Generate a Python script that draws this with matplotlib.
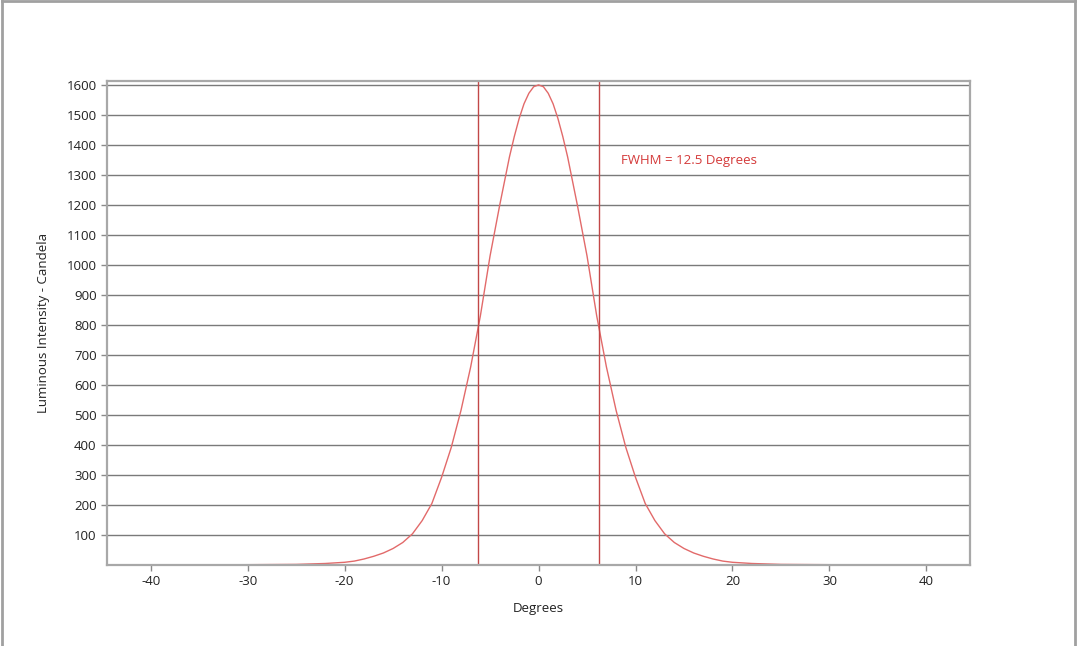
import numpy as np
import matplotlib.pyplot as plt
from matplotlib.lines import Line2D

# luminous intensity profile
degrees = [-44.5, -35, -30, -25, -22, -20, -19, -18, -17, -16, -15, -14, -13, -12, -11,
           -10, -9, -8, -7, -6, -5, -4, -3, -2.5, -2, -1.5, -1, -0.5, 0,
           0.5, 1, 1.5, 2, 2.5, 3, 4, 5, 6, 7, 8, 9, 10,
           11, 12, 13, 14, 15, 16, 17, 18, 19, 20, 22, 25, 30, 35, 44.5]
intensity = [0, 0.5, 1, 2, 5, 9, 13, 20, 29, 40, 55, 75, 104, 148, 205,
             292, 392, 515, 660, 830, 1030, 1200, 1360, 1428, 1488, 1537, 1572, 1594, 1600,
             1594, 1572, 1537, 1488, 1428, 1360, 1200, 1030, 830, 660, 515, 392, 292,
             205, 148, 104, 75, 55, 40, 29, 20, 13, 9, 5, 2, 1, 0.5, 0]
fwhm = 12.5
yticks = list(range(100, 1700, 100))
xticks = [-40, -30, -20, -10, 0, 10, 20, 30, 40]

plt.rcParams['font.family'] = ['Open Sans', 'DejaVu Sans']
plt.rcParams['axes.unicode_minus'] = False

fig = plt.figure(figsize=(10.8, 6.46), dpi=100)
ax = fig.add_axes([0.0991, 0.1254, 0.7991, 0.7492])

ax.plot(degrees, intensity, color='#e26a6a', linewidth=1.0)
ax.axvline(-fwhm / 2, color='#c24848', linewidth=1.0)
ax.axvline(fwhm / 2, color='#c24848', linewidth=1.0)
ax.text(8.5, 1347, f'FWHM = {fwhm} Degrees', color='#d43a3a', fontsize=9.5, va='center')

ax.set_xlim(-44.5, 44.5)
ax.set_ylim(0, 1613)
ax.set_yticks(yticks)
ax.set_xticks(xticks)
ax.yaxis.grid(True, color='#7a7a7a', linewidth=1.0)
ax.set_axisbelow(True)
ax.tick_params(axis='both', colors='#8a8a8a', labelcolor='#222222', labelsize=9.5,
               length=4, width=1, direction='out')
for side in ['left', 'right', 'top', 'bottom']:
    ax.spines[side].set_color('#a8a8a8')
    ax.spines[side].set_linewidth(1.6)

ax.set_xlabel('Degrees', fontsize=9.5, color='#222222', labelpad=10)
ax.set_ylabel('Luminous Intensity - Candela', fontsize=9.5, color='#222222', labelpad=12)

# outer frame of the picture
frame = dict(color='#a0a0a0', linewidth=2, transform=fig.transFigure)
fig.add_artist(Line2D([2 / 1080, 2 / 1080], [0, 1 - 1 / 646], **frame))
fig.add_artist(Line2D([2 / 1080, 1075 / 1080], [1 - 1 / 646, 1 - 1 / 646], **frame))
fig.add_artist(Line2D([1075 / 1080, 1075 / 1080], [0, 1 - 1 / 646], **frame))

plt.savefig('out.png')
